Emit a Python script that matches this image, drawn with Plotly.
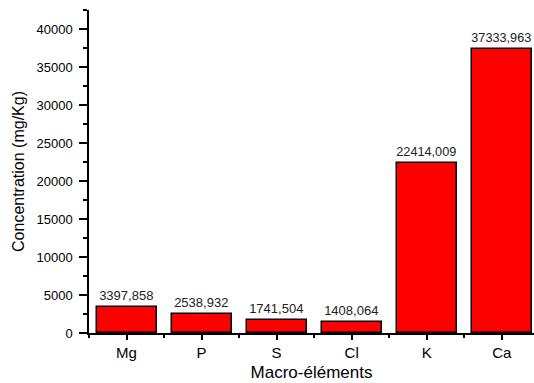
import plotly.graph_objects as go

categories = ["Mg", "P", "S", "Cl", "K", "Ca"]
values = [3397.858, 2538.932, 1741.504, 1408.064, 22414.009, 37333.963]
y_ticks = [0, 5000, 10000, 15000, 20000, 25000, 30000, 35000, 40000]

positions = list(range(len(categories)))
labels = [f"{v:.3f}".replace(".", ",") for v in values]
y_tick_text = [str(t) for t in y_ticks]

fig = go.Figure()
fig.add_trace(go.Bar(
    x=positions, y=values, width=0.8,
    marker=dict(color="#FF0000", line=dict(color="black", width=1.5)),
    text=labels, textposition="outside", cliponaxis=False,
    textfont=dict(family="Liberation Sans, Arial, sans-serif", size=13, color="#222222"),
))

fig.update_layout(
    width=534, height=383,
    margin=dict(l=89, r=0, t=10, b=50),
    paper_bgcolor="white", plot_bgcolor="white",
    showlegend=False,
    font=dict(family="Liberation Sans, Arial, sans-serif", color="black"),
    bargap=0,
)
fig.update_xaxes(
    range=[-0.5, 5.43], automargin=False,
    tickvals=positions, ticktext=categories,
    tickfont=dict(size=15),
    showline=True, linecolor="black", linewidth=1.5,
    ticks="outside", ticklen=5, tickwidth=1.5, tickcolor="black",
    minor=dict(tick0=0.5, dtick=1, ticks="outside", ticklen=3, tickwidth=1.5, tickcolor="black"),
    showgrid=False, zeroline=False,
    title=dict(text="Macro-éléments", font=dict(size=17), standoff=6),
)
fig.update_yaxes(
    range=[0, 42500], automargin=False,
    tickvals=y_ticks, ticktext=y_tick_text,
    tickfont=dict(size=13),
    showline=True, linecolor="black", linewidth=1.5,
    ticks="outside", ticklen=8, tickwidth=1.5, tickcolor="black",
    minor=dict(dtick=2500, ticks="outside", ticklen=4, tickwidth=1.5, tickcolor="black"),
    showgrid=False, zeroline=False,
    ticklabelstandoff=4,
    title=dict(text="Concentration (mg/Kg)", font=dict(size=16), standoff=8),
)

fig.write_html(
    "out.html",
    config={"displayModeBar": False},
    post_script="document.body.style.margin='0';document.body.style.overflow='hidden';",
)
